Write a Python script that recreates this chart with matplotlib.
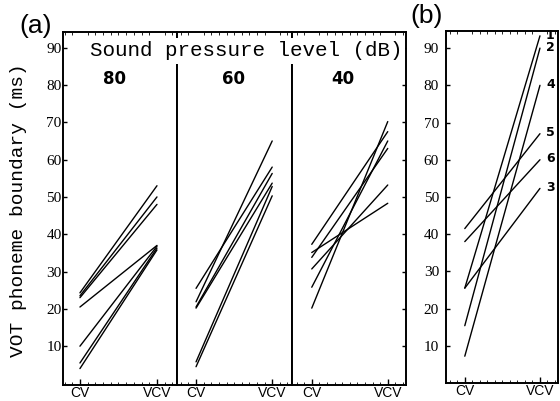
import matplotlib
matplotlib.use("Agg")
import matplotlib.pyplot as plt
from matplotlib.ticker import MultipleLocator

# ---- data ----
conditions = ["CV", "VCV"]
levels = ["80", "60", "40"]
p80_cv = [24.3, 23.5, 23.0, 20.5, 10.0, 5.5, 4.0]
p80_vcv = [53.0, 50.0, 48.0, 37.0, 36.8, 36.3, 35.8]
p60_cv = [25.5, 21.9, 20.5, 20.2, 5.8, 4.5]
p60_vcv = [58.0, 65.0, 56.3, 53.7, 52.8, 50.3]
p40_cv = [37.3, 33.8, 35.1, 30.7, 25.8, 20.2]
p40_vcv = [67.5, 63.0, 48.3, 53.2, 65.0, 70.2]
b_subjects = ["1", "2", "3", "4", "5", "6"]
b_cv = [25.5, 15.4, 25.5, 7.2, 41.5, 38.0]
b_vcv = [93.3, 90.0, 52.3, 80.0, 67.0, 60.0]
yticks = [10, 20, 30, 40, 50, 60, 70, 80, 90]

W, H = 560, 401
fig = plt.figure(figsize=(W / 100, H / 100), dpi=100)
fig.patch.set_facecolor("white")

def fx(px):
    return px / W

def fy(py):
    return 1 - py / H

def add_ax(x0, x1, y0, y1):
    return fig.add_axes([fx(x0), fy(y1), fx(x1) - fx(x0), fy(y0) - fy(y1)])

serif = "Liberation Serif"
mono = "Liberation Mono"
sans = "Liberation Sans"

def style(ax, xlim, ylim, left_labels=False, right_ticks=False, left_ticks=False, pad=1):
    ax.set_xlim(*xlim)
    ax.set_ylim(*ylim)
    for s in ax.spines.values():
        s.set_linewidth(1.4)
        s.set_color("black")
    ax.set_xticks([0, 1])
    ax.set_xticklabels(conditions, family=sans, fontsize=10)
    ax.xaxis.set_minor_locator(MultipleLocator(0.1))
    ax.tick_params(axis="x", which="major", direction="in", length=4, width=1.0, pad=0.5,
                   top=False)
    ax.tick_params(axis="x", which="minor", direction="in", length=2, width=0.6,
                   top=True, bottom=True)
    ax.set_yticks(yticks)
    if left_labels:
        ax.set_yticklabels([str(v) for v in yticks], family=serif, fontsize=11)
    else:
        ax.set_yticklabels([])
    ax.tick_params(axis="y", which="major", direction="in", length=3, width=1.0, pad=pad,
                   left=left_ticks, right=right_ticks, labelleft=left_labels)

lw = 1.0

# panel (a)
ax1 = add_ax(63, 177, 32, 385)
ax2 = add_ax(177, 292, 32, 385)
ax3 = add_ax(292, 406, 32, 385)
ya = (-0.4, 94.2)
style(ax1, (-0.22, 1.26), ya, left_labels=True, left_ticks=True, pad=1)
style(ax2, (-0.25, 1.26), ya)
style(ax3, (-0.26, 1.24), ya, right_ticks=True)

for ax, cvs, vcvs, lev, lx in [(ax1, p80_cv, p80_vcv, levels[0], 0.45),
                                (ax2, p60_cv, p60_vcv, levels[1], 0.49),
                                (ax3, p40_cv, p40_vcv, levels[2], 0.41)]:
    for a, b in zip(cvs, vcvs):
        ax.plot([0, 1], [a, b], color="black", lw=lw, solid_capstyle="round")
    ax.text(lx, 81.5, lev, family="DejaVu Sans", fontweight="bold", fontsize=12,
            ha="center", va="center")

fig.text(fx(19), fy(210), "VOT phoneme boundary (ms)", family=mono, fontsize=14,
         rotation=90, ha="center", va="center")

fig.text(fx(246), fy(51), "Sound pressure level (dB)", family=mono, fontsize=15,
         ha="center", va="center", zorder=20,
         bbox=dict(boxstyle="square,pad=0.15", fc="white", ec="none"))

fig.text(fx(36), fy(26), "(a)", family=sans, fontsize=19, ha="center", va="center")

# panel (b)
axb = add_ax(446, 558, 31, 383)
style(axb, (-0.25, 1.24), (0, 94.6), left_labels=True, left_ticks=True, pad=5)
for a, b, lab in zip(b_cv, b_vcv, b_subjects):
    axb.plot([0, 1], [a, b], color="black", lw=lw, solid_capstyle="round")
    axb.text(1.08, b + 0.2, lab, family="DejaVu Sans", fontweight="bold", fontsize=9,
             ha="left", va="center")

fig.text(fx(427), fy(16), "(b)", family=sans, fontsize=19, ha="center", va="center")

fig.savefig("out.png", dpi=100, facecolor="white")
